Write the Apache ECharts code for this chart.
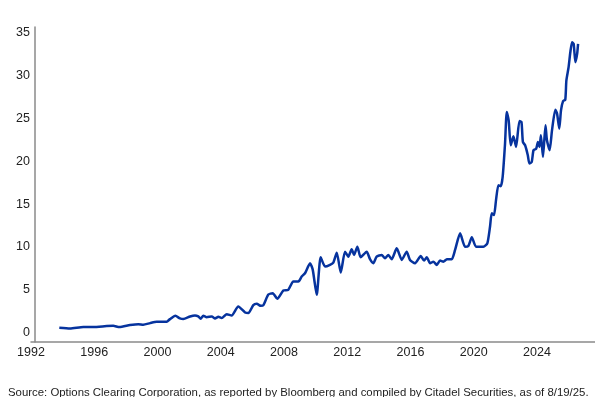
<!DOCTYPE html>
<html>
<head>
<meta charset="utf-8">
<script src="https://cdn.jsdelivr.net/npm/echarts@6/dist/echarts.min.js"></script>
<style>
  html, body { margin: 0; padding: 0; background: #fff; }
  #chart { width: 595px; height: 397px; }
</style>
</head>
<body>
<div id="chart"></div>
<script>
// year (decimal) and value
const dates = [
  1993.79, 1994.47, 1995.31, 1995.94, 1996.79, 1997.20, 1997.59, 1998.26, 1998.79, 1999.10,
  1999.53, 1999.95, 2000.58, 2000.79, 2001.13, 2001.42, 2001.63, 2002.06, 2002.37, 2002.58,
  2002.73, 2002.90, 2003.11, 2003.43, 2003.64, 2003.85, 2004.06, 2004.38, 2004.69, 2005.11,
  2005.54, 2005.75, 2006.06, 2006.28, 2006.53, 2006.70, 2007.01, 2007.29, 2007.58, 2007.96,
  2008.27, 2008.59, 2008.91, 2009.12, 2009.33, 2009.65, 2009.82, 2010.07, 2010.32, 2010.60,
  2010.91, 2011.12, 2011.34, 2011.59, 2011.86, 2012.07, 2012.28, 2012.43, 2012.64, 2012.85,
  2013.23, 2013.44, 2013.65, 2013.86, 2014.18, 2014.39, 2014.60, 2014.81, 2015.13, 2015.45,
  2015.76, 2015.97, 2016.29, 2016.65, 2016.86, 2017.03, 2017.24, 2017.45, 2017.66, 2017.87,
  2018.08, 2018.30, 2018.61, 2018.82, 2019.14, 2019.45, 2019.66, 2019.88, 2020.15, 2020.61,
  2020.86, 2021.03, 2021.14, 2021.28, 2021.41, 2021.56, 2021.71, 2021.83, 2021.98, 2022.09,
  2022.21, 2022.34, 2022.51, 2022.68, 2022.89, 2023.02, 2023.11, 2023.25, 2023.42, 2023.52,
  2023.67, 2023.78, 2023.95, 2024.06, 2024.16, 2024.25, 2024.38, 2024.54, 2024.63, 2024.80,
  2024.95, 2025.16, 2025.27, 2025.41, 2025.52, 2025.65, 2025.79, 2025.86, 2026.00, 2026.11,
  2026.22, 2026.32, 2026.43, 2026.54, 2026.60,
]
const values = [
  0.58, 0.50, 0.66, 0.66, 0.78, 0.81, 0.66, 0.89, 1.00, 0.93,
  1.12, 1.28, 1.28, 1.59, 1.98, 1.67, 1.59, 1.90, 2.02, 1.90,
  1.63, 1.98, 1.82, 1.90, 1.67, 1.86, 1.71, 2.17, 2.02, 3.06,
  2.36, 2.29, 3.22, 3.37, 3.14, 3.22, 4.45, 4.61, 3.95, 4.92,
  5.00, 5.97, 5.97, 6.55, 6.94, 8.10, 7.33, 4.42, 8.80, 7.71,
  7.91, 8.17, 9.34, 7.01, 9.45, 8.87, 9.73, 9.07, 10.03, 8.80,
  9.45, 8.57, 8.10, 8.87, 9.07, 8.68, 9.07, 8.57, 9.84, 8.49,
  9.45, 8.49, 8.10, 8.95, 8.41, 8.80, 8.10, 8.29, 7.91, 8.41,
  8.29, 8.57, 8.57, 9.65, 11.59, 10.03, 10.12, 11.13, 10.03, 10.03,
  10.43, 12.36, 13.92, 13.72, 15.47, 17.21, 17.09, 18.17, 22.06, 25.73,
  24.77, 21.86, 22.90, 21.67, 24.69, 24.57, 22.24, 21.86, 20.70, 19.73,
  19.92, 21.28, 21.47, 22.24, 21.67, 23.02, 20.50, 24.19, 22.44, 21.28,
  23.60, 26.01, 25.55, 23.80, 25.93, 27.01, 27.17, 29.42, 30.97, 32.71,
  33.87, 33.69, 31.55, 32.52, 33.69,
]
const yTicks = [0, 5, 10, 15, 20, 25, 30, 35]
const source = 'Source: Options Clearing Corporation, as reported by Bloomberg and compiled by Citadel Securities, as of 8/19/25.'

const FONT = 'Liberation Sans, Arial, Helvetica, sans-serif'
const chart = echarts.init(document.getElementById('chart'))

chart.setOption({
  animation: false,
  backgroundColor: '#fff',
  title: {
    text: source,
    left: 3,
    top: 382,
    textStyle: { fontFamily: FONT, fontSize: 11.4, fontWeight: 'normal', color: '#222' },
  },
  grid: { left: 31, right: 0, top: 27, bottom: 55 },
  xAxis: {
    type: 'value',
    min: 1992,
    max: 2027.67,
    interval: 4,
    axisLine: { show: true, onZero: false, lineStyle: { color: '#8a8a8a', width: 1.5 } },
    axisTick: { show: false },
    splitLine: { show: false },
    axisLabel: {
      margin: 4,
      fontFamily: FONT,
      fontSize: 12.5,
      color: '#222',
      showMinLabel: true,
      showMaxLabel: false,
      formatter: (v) => String(v),
    },
  },
  yAxis: {
    type: 'value',
    min: -1.08,
    max: 35.65,
    offset: -4,
    axisLine: { show: true, onZero: false, lineStyle: { color: '#8a8a8a', width: 1.5 } },
    axisTick: { show: false },
    splitLine: { show: false },
    axisLabel: {
      customValues: yTicks,
      margin: 5,
      fontFamily: FONT,
      fontSize: 12.5,
      color: '#222',
    },
  },
  series: [{
    type: 'line',
    data: dates.map((d, i) => [d, values[i]]),
    showSymbol: false,
    smooth: 0.2,
    lineStyle: { color: '#06339e', width: 2.5 },
  }],
})
</script>
</body>
</html>
